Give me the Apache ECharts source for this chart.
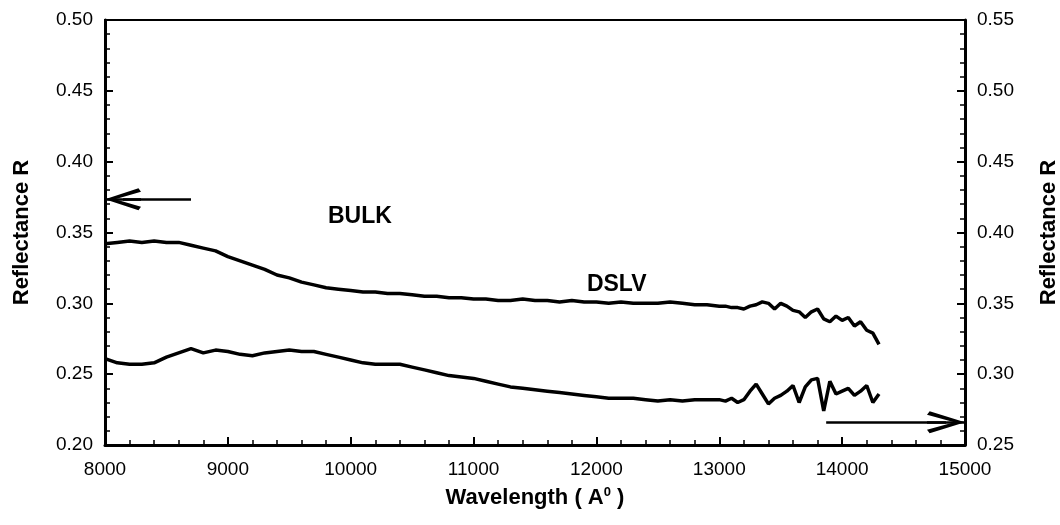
<!DOCTYPE html>
<html>
<head>
<meta charset="utf-8">
<script src="https://cdn.jsdelivr.net/npm/echarts@6/dist/echarts.min.js"></script>
<style>
html,body{margin:0;padding:0;background:#fff;}
#chart{width:1060px;height:525px;}
</style>
</head>
<body>
<div id="chart"></div>
<script>
// Wavelengths (Angstrom)
const wavelengths = [
  8000,8100,8200,8300,8400,8500,8600,8700,8800,8900,
  9000,9100,9200,9300,9400,9500,9600,9700,9800,9900,
  10000,10100,10200,10300,10400,10500,10600,10700,10800,10900,
  11000,11100,11200,11300,11400,11500,11600,11700,11800,11900,
  12000,12100,12200,12300,12400,12500,12600,12700,12800,12900,
  13000,13050,13100,13150,13200,13250,13300,13350,13400,13450,
  13500,13550,13600,13650,13700,13750,13800,13850,13900,13950,
  14000,14050,14100,14150,14200,14250,14300
];
// BULK reflectance (left axis)
const bulk = [
  0.342,0.343,0.344,0.343,0.344,0.343,0.343,0.341,0.339,0.337,
  0.333,0.330,0.327,0.324,0.320,0.318,0.315,0.313,0.311,0.310,
  0.309,0.308,0.308,0.307,0.307,0.306,0.305,0.305,0.304,0.304,
  0.303,0.303,0.302,0.302,0.303,0.302,0.302,0.301,0.302,0.301,
  0.301,0.300,0.301,0.300,0.300,0.300,0.301,0.300,0.299,0.299,
  0.298,0.298,0.297,0.297,0.296,0.298,0.299,0.301,0.300,0.296,
  0.300,0.298,0.295,0.294,0.290,0.294,0.296,0.289,0.287,0.291,
  0.288,0.290,0.284,0.287,0.281,0.279,0.271
];
// DSLV reflectance (right axis)
const dslv = [
  0.311,0.308,0.307,0.307,0.308,0.312,0.315,0.318,0.315,0.317,
  0.316,0.314,0.313,0.315,0.316,0.317,0.316,0.316,0.314,0.312,
  0.310,0.308,0.307,0.307,0.307,0.305,0.303,0.301,0.299,0.298,
  0.297,0.295,0.293,0.291,0.290,0.289,0.288,0.287,0.286,0.285,
  0.284,0.283,0.283,0.283,0.282,0.281,0.282,0.281,0.282,0.282,
  0.282,0.281,0.283,0.280,0.282,0.288,0.293,0.286,0.279,0.283,
  0.285,0.288,0.292,0.280,0.291,0.296,0.297,0.274,0.295,0.286,
  0.288,0.290,0.285,0.288,0.292,0.280,0.286
];
const xTicks = {min: 8000, max: 15000, step: 1000};
const yLeftTicks = {min: 0.20, max: 0.50, step: 0.05};
const yRightTicks = {min: 0.25, max: 0.55, step: 0.05};
const seriesNames = ['BULK', 'DSLV'];
const labelPos = {BULK: [10075, 0.361], DSLV: [12165, 0.363]};
const leftArrow = {from: 8700, to: 8000, y: 0.3735};
const rightArrow = {from: 13870, to: 15000, y: 0.266};

const FONT = '"Liberation Sans", Arial, sans-serif';
const chevron = 'path://M10,0 L20,26.5 L16.8,28.5 L10,8 L3.2,28.5 L0,26.5 Z';

function axisCommon() {
  return {
    axisLine: {show: true, lineStyle: {color: '#000', width: 3}},
    axisTick: {show: true, inside: true, length: 8, lineStyle: {color: '#000', width: 2}},
    minorTick: {show: true, splitNumber: 5, length: 5, lineStyle: {color: '#000', width: 1.5}},
    splitLine: {show: false},
    minorSplitLine: {show: false}
  };
}

const chart = echarts.init(document.getElementById('chart'), null, {renderer: 'canvas'});

const gridBox = {left: 105, right: 95, top: 20, bottom: 80};
const xPerPx = (xTicks.max - xTicks.min) / (1060 - gridBox.left - gridBox.right);

function arrowMarkLine(a, arrowPx, dirSign) {
  // shaft plus chevron head whose tip sits on the end coordinate
  const half = arrowPx / 2 * xPerPx * dirSign;
  return [
    [{coord: [a.from, a.y], symbol: 'none'}, {coord: [a.to, a.y], symbol: 'none'}],
    [{coord: [a.to - half * 2, a.y], symbol: 'none'}, {coord: [a.to - half, a.y], symbol: chevron, symbolSize: [22, arrowPx]}]
  ];
}

const option = {
  animation: false,
  backgroundColor: '#fff',
  grid: Object.assign({show: true, borderColor: '#000', borderWidth: 2, backgroundColor: 'transparent',
    containLabel: false, outerBoundsMode: 'none'}, gridBox),
  xAxis: Object.assign(axisCommon(), {
    type: 'value', min: xTicks.min, max: xTicks.max, interval: xTicks.step,
    name: 'Wavelength ( A{s|0} )',
    nameLocation: 'middle', nameGap: 41,
    nameTextStyle: {fontFamily: FONT, fontSize: 22, fontWeight: 'bold', color: '#000',
      rich: {s: {fontFamily: FONT, fontSize: 13, fontWeight: 'bold', color: '#000', verticalAlign: 'top', padding: [0,0,10,0]}}},
    axisLabel: {color: '#000', fontFamily: FONT, fontSize: 19, margin: 15, formatter: v => String(v)}
  }),
  yAxis: [
    Object.assign(axisCommon(), {
      type: 'value', position: 'left', min: yLeftTicks.min, max: yLeftTicks.max, interval: yLeftTicks.step,
      name: 'Reflectance R', nameLocation: 'middle', nameGap: 72, nameRotate: 90,
      nameTextStyle: {fontFamily: FONT, fontSize: 22, fontWeight: 'bold', color: '#000'},
      axisLabel: {color: '#000', fontFamily: FONT, fontSize: 19, margin: 12, formatter: v => v.toFixed(2)}
    }),
    Object.assign(axisCommon(), {
      type: 'value', position: 'right', min: yRightTicks.min, max: yRightTicks.max, interval: yRightTicks.step,
      name: 'Reflectance R', nameLocation: 'middle', nameGap: 73, nameRotate: 90,
      nameTextStyle: {fontFamily: FONT, fontSize: 22, fontWeight: 'bold', color: '#000'},
      axisLabel: {color: '#000', fontFamily: FONT, fontSize: 19, margin: 12, formatter: v => v.toFixed(2)}
    })
  ],
  series: [
    {
      name: seriesNames[0], type: 'line', yAxisIndex: 0, showSymbol: false, symbol: 'none',
      lineStyle: {color: '#000', width: 3.5}, itemStyle: {color: '#000'},
      data: wavelengths.map((w, i) => [w, bulk[i]]),
      markLine: {
        silent: true, animation: false, label: {show: false},
        lineStyle: {color: '#000', width: 2.5, type: 'solid'}, itemStyle: {color: '#000'},
        data: arrowMarkLine(leftArrow, 36, -1)
      },
      markPoint: {
        silent: true, symbol: 'circle', symbolSize: 1, itemStyle: {color: 'rgba(0,0,0,0)'},
        label: {show: true, position: 'inside', formatter: seriesNames[0], fontFamily: FONT, fontSize: 23, fontWeight: 'bold', color: '#000'},
        data: [{coord: labelPos.BULK}]
      }
    },
    {
      name: seriesNames[1], type: 'line', yAxisIndex: 1, showSymbol: false, symbol: 'none',
      lineStyle: {color: '#000', width: 3.5}, itemStyle: {color: '#000'},
      data: wavelengths.map((w, i) => [w, dslv[i]]),
      markLine: {
        silent: true, animation: false, label: {show: false},
        lineStyle: {color: '#000', width: 2.5, type: 'solid'}, itemStyle: {color: '#000'},
        data: arrowMarkLine(rightArrow, 38, 1)
      },
      markPoint: {
        silent: true, symbol: 'circle', symbolSize: 1, itemStyle: {color: 'rgba(0,0,0,0)'},
        label: {show: true, position: 'inside', formatter: seriesNames[1], fontFamily: FONT, fontSize: 23, fontWeight: 'bold', color: '#000'},
        data: [{coord: labelPos.DSLV}]
      }
    }
  ]
};
chart.setOption(option);
</script>
</body>
</html>
